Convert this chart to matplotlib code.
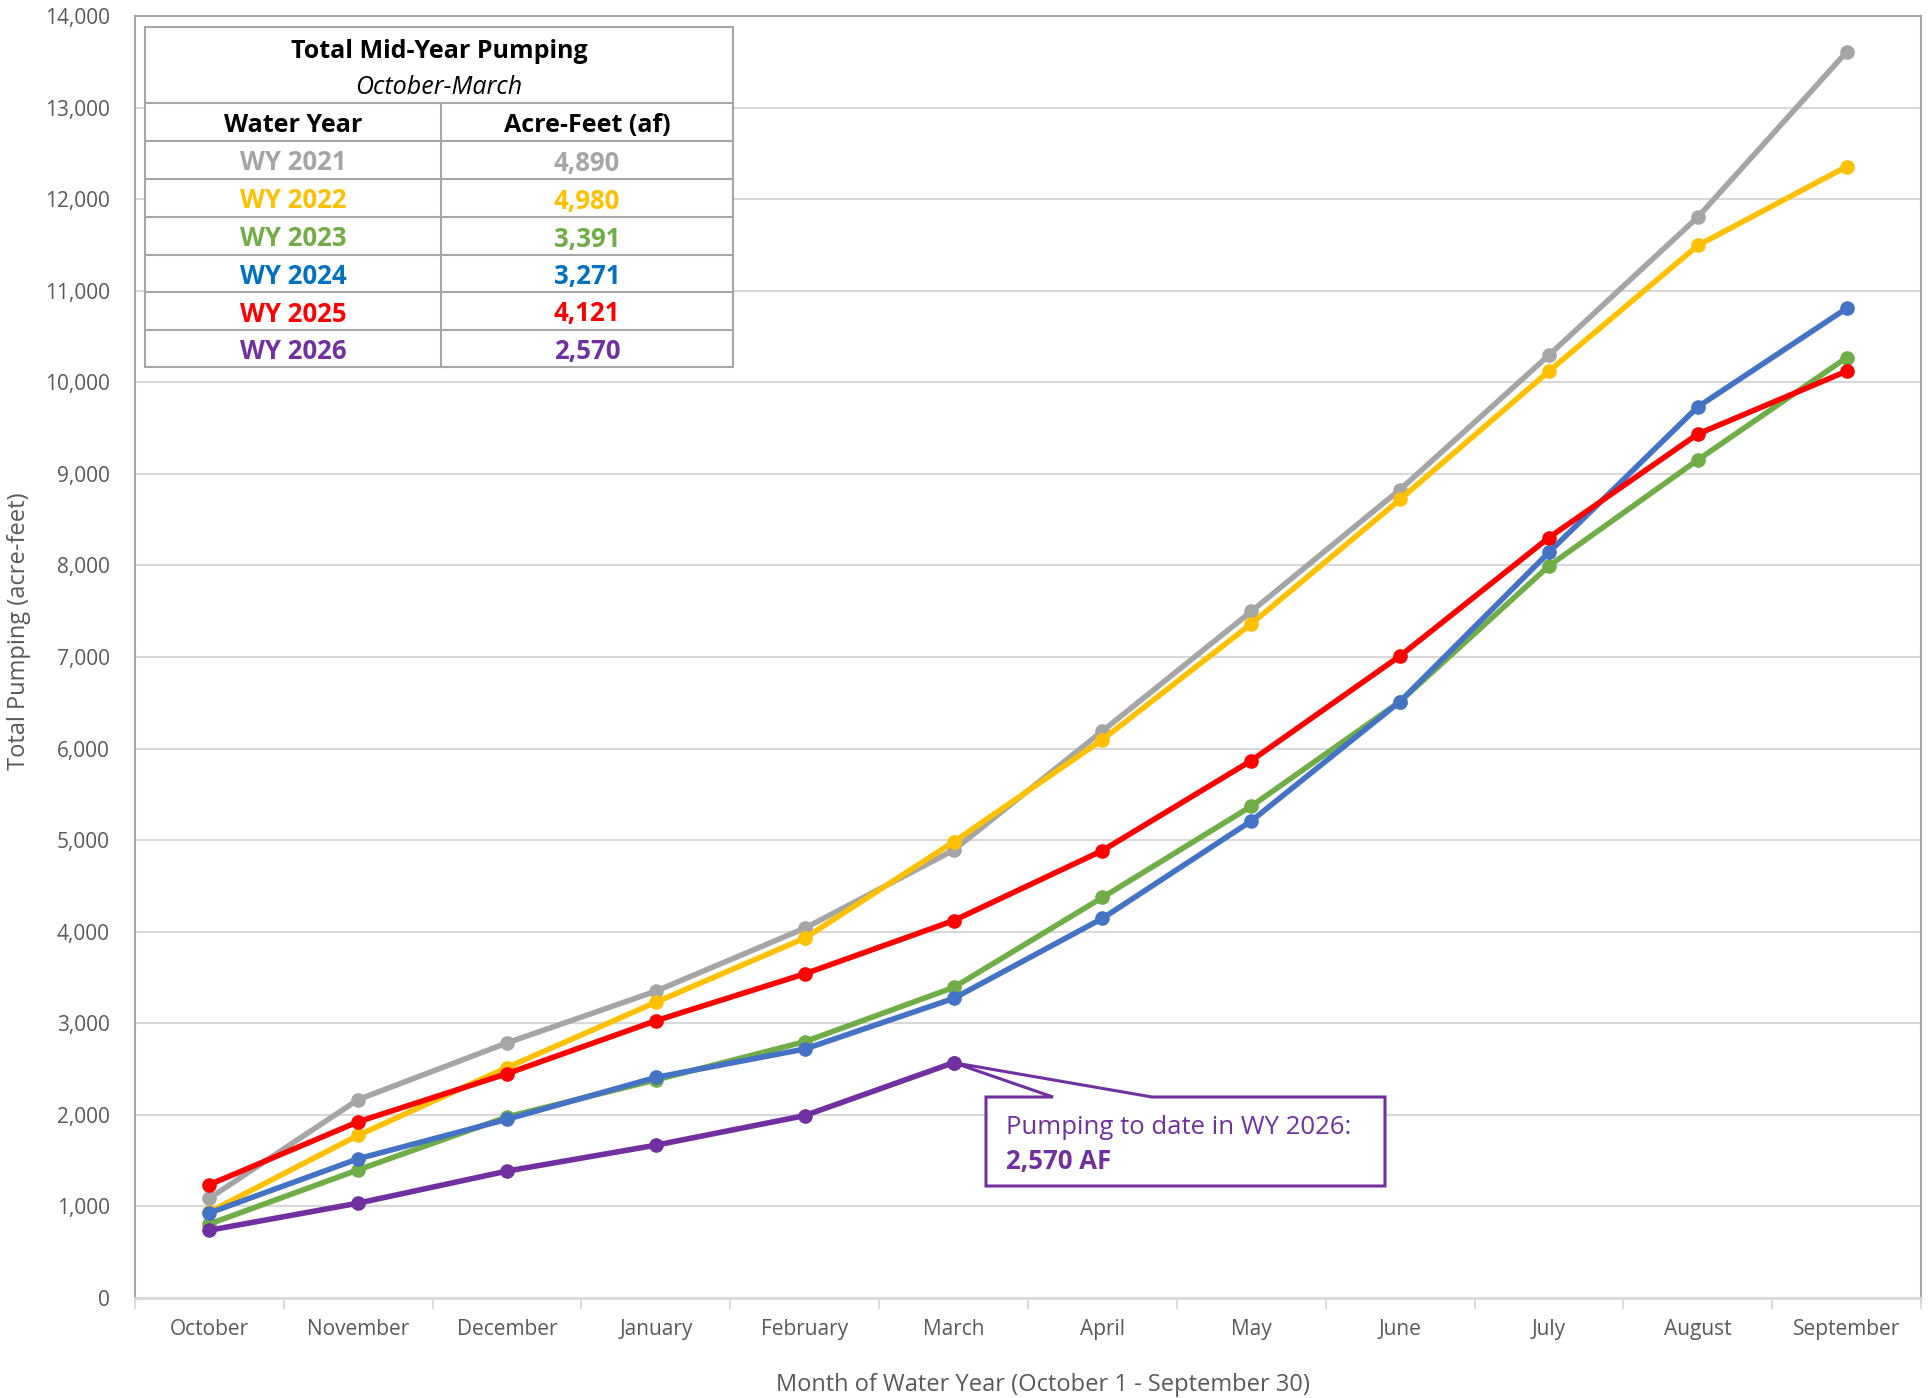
import matplotlib
matplotlib.use("Agg")
import matplotlib.pyplot as plt
from matplotlib.patches import Polygon

plt.rcParams['font.family'] = ['Open Sans', 'DejaVu Sans']

months = ["October", "November", "December", "January", "February", "March",
          "April", "May", "June", "July", "August", "September"]

wy2021 = [1090, 2167, 2786, 3351, 4038, 4890, 6191, 7497, 8829, 10296, 11803, 13607]
wy2022 = [940, 1777, 2517, 3230, 3930, 4980, 6097, 7362, 8721, 10121, 11494, 12355]
wy2023 = [808, 1400, 1978, 2382, 2799, 3391, 4374, 5370, 6514, 7995, 9152, 10269]
wy2024 = [929, 1521, 1952, 2409, 2719, 3271, 4145, 5209, 6514, 8143, 9731, 10807]
wy2025 = [1238, 1925, 2450, 3028, 3540, 4121, 4886, 5868, 7012, 8304, 9435, 10121]
wy2026 = [740, 1036, 1386, 1669, 1992, 2570]

series_names = ["WY 2021", "WY 2022", "WY 2023", "WY 2024", "WY 2025", "WY 2026"]
line_colors = ["#A5A5A5", "#FFC000", "#70AD47", "#4472C4", "#FF0000", "#7030A0"]
table_colors = ["#A5A5A5", "#FFC000", "#70AD47", "#0070C0", "#FF0000", "#7030A0"]
table_values = ["4,890", "4,980", "3,391", "3,271", "4,121", "2,570"]

W, H = 1931, 1398
fig = plt.figure(figsize=(W / 100, H / 100), dpi=100)
ax = fig.add_axes([135 / W, 1 - 1298 / H, (1921 - 135) / W, (1298 - 16) / H])

xmin, xmax, ymin, ymax = -0.5, 11.5, 0, 14000
ax.set_xlim(xmin, xmax)
ax.set_ylim(ymin, ymax)

# gridlines
ax.set_yticks(range(0, 14001, 1000))
ax.set_yticklabels([f"{v:,}" for v in range(0, 14001, 1000)])
ax.yaxis.grid(True, color="#D9D9D9", linewidth=1.5, zorder=0)
ax.set_axisbelow(True)
ax.tick_params(axis="y", length=0, pad=18, labelsize=15, labelcolor="#595959")

ax.set_xticks(range(12))
ax.set_xticklabels(months)
ax.set_xticks([i - 0.5 for i in range(13)], minor=True)
ax.tick_params(axis="x", which="major", length=0, pad=15, labelsize=15, labelcolor="#595959")
ax.tick_params(axis="x", which="minor", length=8, width=1.5, color="#D9D9D9")

for side in ["left", "top", "right"]:
    ax.spines[side].set_color("#A6A6A6")
    ax.spines[side].set_linewidth(1.5)
ax.spines["bottom"].set_color("#D9D9D9")
ax.spines["bottom"].set_linewidth(2)

all_series = [wy2021, wy2022, wy2023, wy2024, wy2025, wy2026]
for vals, col in zip(all_series, line_colors):
    ax.plot(range(len(vals)), vals, color=col, linewidth=4.0, marker="o",
            markersize=9.5, zorder=3, solid_capstyle="round")

ax.set_ylabel("Total Pumping (acre-feet)", fontsize=17, color="#595959")
ax.set_xlabel("Month of Water Year (October 1 - September 30)", fontsize=17,
              color="#595959")
ax.yaxis.set_label_coords(-0.058, 0.52)
ax.xaxis.set_label_coords(0.5086, -0.0587)

# ---- summary table ----
tx0, tx1, tmid = 145 / W, 733 / W, 441 / W
ty = lambda p: 1 - p / H
row_edges = [27, 103, 141, 179, 217, 255, 292, 330, 367]
edge_col = "#A6A6A6"
fig.add_artist(plt.Rectangle((tx0, ty(row_edges[-1])), tx1 - tx0,
                             ty(row_edges[0]) - ty(row_edges[-1]),
                             transform=fig.transFigure, facecolor="white",
                             edgecolor=edge_col, linewidth=1.5, zorder=5))
for e in row_edges[1:-1]:
    fig.add_artist(plt.Line2D([tx0, tx1], [ty(e), ty(e)], transform=fig.transFigure,
                              color=edge_col, linewidth=1.5, zorder=6))
fig.add_artist(plt.Line2D([tmid, tmid], [ty(row_edges[1]), ty(row_edges[-1])],
                          transform=fig.transFigure, color=edge_col, linewidth=1.5, zorder=6))
cx = (tx0 + tx1) / 2
fs = 18
fig.text(cx, ty(51), "Total Mid-Year Pumping", ha="center", va="center",
         fontsize=fs, fontweight="bold", color="black", zorder=7)
fig.text(cx, ty(88), "October-March", ha="center", va="center",
         fontsize=fs, fontstyle="italic", color="black", zorder=7)
c1 = (tx0 + tmid) / 2
c2 = (tmid + tx1) / 2
fig.text(c1, ty(125), "Water Year", ha="center", va="center", fontsize=fs,
         fontweight="bold", color="black", zorder=7)
fig.text(c2, ty(125), "Acre-Feet (af)", ha="center", va="center", fontsize=fs,
         fontweight="bold", color="black", zorder=7)
for i, (nm, val, col) in enumerate(zip(series_names, table_values, table_colors)):
    yc = ty((row_edges[i + 2] + row_edges[i + 3]) / 2 + 3)
    fig.text(c1, yc, nm, ha="center", va="center", fontsize=fs + 0.5, fontweight="bold",
             color=col, zorder=7)
    fig.text(c2, yc, val, ha="center", va="center", fontsize=fs + 0.5, fontweight="bold",
             color=col, zorder=7)

# ---- callout ----
def ax_to_data(fx, fy):
    return (xmin + (xmax - xmin) * fx, ymin + (ymax - ymin) * fy)

px_x = lambda p: (p - 135) / (1921 - 135)
px_y = lambda p: (1298 - p) / (1298 - 16)
bx0, bx1 = px_x(986), px_x(1385)
by0, by1 = px_y(1186), px_y(1097)
wx0, wx1 = px_x(1053), px_x(1152)
anchor = (5, wy2026[5])
poly = [ax_to_data(bx0, by1), ax_to_data(wx0, by1), anchor, ax_to_data(wx1, by1),
        ax_to_data(bx1, by1), ax_to_data(bx1, by0), ax_to_data(bx0, by0)]
ax.add_patch(Polygon(poly, closed=True, facecolor="white", edgecolor="#7030A0",
                     linewidth=2.2, zorder=4, joinstyle="miter"))
ax.plot([anchor[0]], [anchor[1]], marker="o", color="#7030A0", markersize=9.5, zorder=5)
tx, ty1 = ax_to_data(px_x(1006), px_y(1127))
ax.text(tx, ty1, "Pumping to date in WY 2026:", ha="left", va="center",
        fontsize=18.5, color="#7030A0", zorder=6)
tx, ty2 = ax_to_data(px_x(1006), px_y(1161))
ax.text(tx, ty2, "2,570 AF", ha="left", va="center", fontsize=18.5,
        fontweight="bold", color="#7030A0", zorder=6)

fig.savefig("out.png", dpi=100, facecolor="white")
